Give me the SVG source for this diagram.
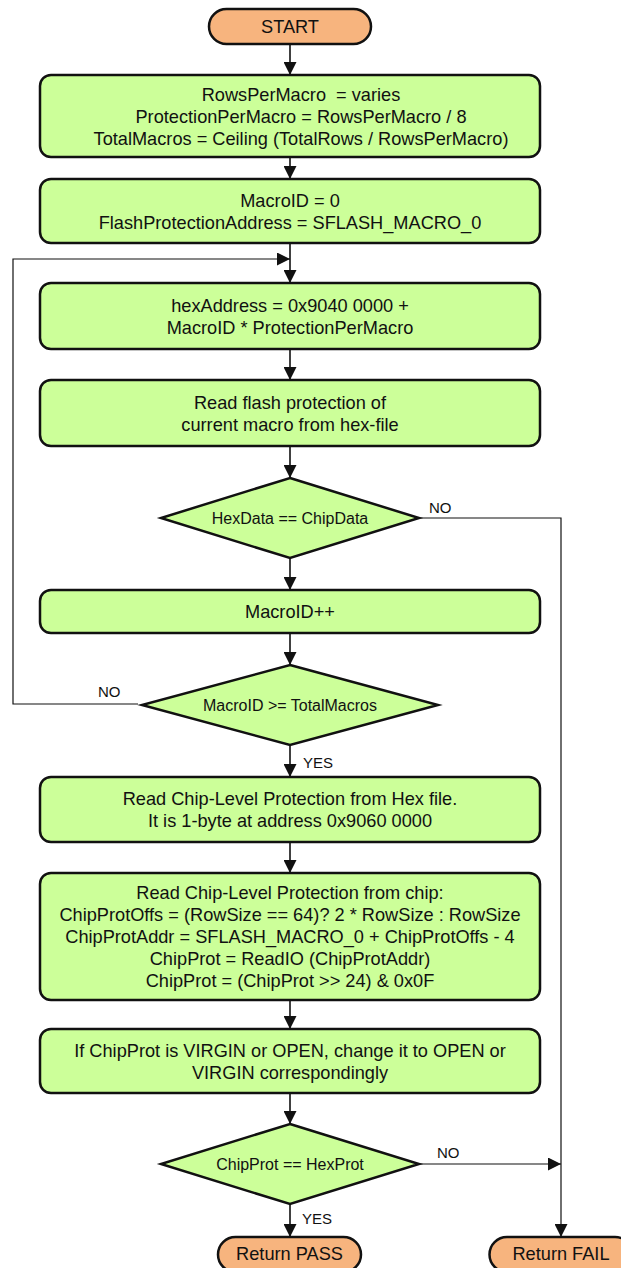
<svg xmlns="http://www.w3.org/2000/svg" width="621" height="1268" viewBox="0 0 621 1268">
<style>
.box{fill:#ccff99;stroke:#111;stroke-width:2.5}
.term{fill:#f7b47e;stroke:#111;stroke-width:2.5}
.t{font-family:"Liberation Sans",Arial,sans-serif;font-size:18.2px;fill:#111;text-anchor:middle}
.d{font-family:"Liberation Sans",Arial,sans-serif;font-size:16px;fill:#111;text-anchor:middle}
.l{font-family:"Liberation Sans",Arial,sans-serif;font-size:15px;fill:#111}
.c{fill:none;stroke:#111;stroke-width:1.6}
.s{fill:none;stroke:#111;stroke-width:1.2}
</style>
<defs>
<marker id="ah" markerUnits="userSpaceOnUse" markerWidth="14" markerHeight="13" refX="13" refY="6.5" orient="auto">
<path d="M0,0 L13,6.5 L0,13 z" fill="#111"/>
</marker>
</defs>
<rect width="621" height="1268" fill="#fff"/>
<g id="connectors">
<path class="c" d="M290,44 V75" marker-end="url(#ah)"/>
<path class="c" d="M290,157 V179" marker-end="url(#ah)"/>
<path class="c" d="M290,243 V283" marker-end="url(#ah)"/>
<path class="s" d="M138,704 H13 V259 H290" marker-end="url(#ah)"/>
<path class="c" d="M290,349 V380" marker-end="url(#ah)"/>
<path class="c" d="M290,446 V478" marker-end="url(#ah)"/>
<path class="c" d="M290,558 V590" marker-end="url(#ah)"/>
<path class="s" d="M419,518 H561 V1237" marker-end="url(#ah)"/>
<path class="c" d="M290,633 V665" marker-end="url(#ah)"/>
<path class="c" d="M290,745 V777" marker-end="url(#ah)"/>
<path class="c" d="M290,842 V873" marker-end="url(#ah)"/>
<path class="c" d="M290,1000 V1029" marker-end="url(#ah)"/>
<path class="c" d="M290,1093 V1124" marker-end="url(#ah)"/>
<path class="s" d="M419,1164 H561" marker-end="url(#ah)"/>
<path class="c" d="M290,1204 V1237" marker-end="url(#ah)"/>
<text class="l" x="429" y="513">NO</text>
<text class="l" x="98" y="697">NO</text>
<text class="l" x="303" y="768">YES</text>
<text class="l" x="437" y="1158">NO</text>
<text class="l" x="302" y="1224">YES</text>
</g>
<g id="start">
<rect class="term" x="209" y="9" width="162" height="35" rx="17.5"/>
<text class="t" x="290" y="32.5">START</text>
</g>
<g id="init">
<rect class="box" x="40" y="75" width="500" height="82" rx="11"/>
<text class="t" x="301" y="100.5">RowsPerMacro&#160; = varies</text>
<text class="t" x="301" y="122.5">ProtectionPerMacro = RowsPerMacro / 8</text>
<text class="t" x="301" y="144.5">TotalMacros = Ceiling (TotalRows / RowsPerMacro)</text>
</g>
<g id="macroinit">
<rect class="box" x="40" y="179" width="500" height="64" rx="11"/>
<text class="t" x="290" y="206.5">MacroID = 0</text>
<text class="t" x="290" y="228.5">FlashProtectionAddress = SFLASH_MACRO_0</text>
</g>
<g id="hexaddr">
<rect class="box" x="40" y="283" width="500" height="66" rx="11"/>
<text class="t" x="290" y="311.5">hexAddress = 0x9040 0000 +</text>
<text class="t" x="290" y="333.5">MacroID * ProtectionPerMacro</text>
</g>
<g id="readflash">
<rect class="box" x="40" y="380" width="500" height="66" rx="11"/>
<text class="t" x="290" y="408.5">Read flash protection of</text>
<text class="t" x="290" y="430.5">current macro from hex-file</text>
</g>
<g id="cmpdata">
<polygon class="box" points="290,478 419,518 290,558 161,518"/>
<text class="d" x="290" y="523.5">HexData == ChipData</text>
</g>
<g id="incr">
<rect class="box" x="40" y="590" width="500" height="43" rx="11"/>
<text class="t" x="290" y="617.5">MacroID++</text>
</g>
<g id="cmpmacro">
<polygon class="box" points="290,665 438,705 290,745 142,705"/>
<text class="d" x="290" y="710.5">MacroID &gt;= TotalMacros</text>
</g>
<g id="readhexchip">
<rect class="box" x="40" y="777" width="500" height="65" rx="11"/>
<text class="t" x="290" y="805">Read Chip-Level Protection from Hex file.</text>
<text class="t" x="290" y="827">It is 1-byte at address 0x9060 0000</text>
</g>
<g id="readchip">
<rect class="box" x="40" y="873" width="500" height="127" rx="11"/>
<text class="t" x="290" y="899">Read Chip-Level Protection from chip:</text>
<text class="t" x="290" y="921">ChipProtOffs = (RowSize == 64)? 2 * RowSize : RowSize</text>
<text class="t" x="290" y="943">ChipProtAddr = SFLASH_MACRO_0 + ChipProtOffs - 4</text>
<text class="t" x="290" y="965">ChipProt = ReadIO (ChipProtAddr)</text>
<text class="t" x="290" y="987">ChipProt = (ChipProt &gt;&gt; 24) &amp; 0x0F</text>
</g>
<g id="swap">
<rect class="box" x="40" y="1029" width="500" height="64" rx="11"/>
<text class="t" x="290" y="1056.5">If ChipProt is VIRGIN or OPEN, change it to OPEN or</text>
<text class="t" x="290" y="1078.5">VIRGIN correspondingly</text>
</g>
<g id="cmpprot">
<polygon class="box" points="290,1124 419,1164 290,1204 161,1164"/>
<text class="d" x="290" y="1169.5">ChipProt == HexProt</text>
</g>
<g id="pass">
<rect class="term" x="218" y="1237" width="143" height="35" rx="17.5"/>
<text class="t" x="289.5" y="1260">Return PASS</text>
</g>
<g id="fail">
<rect class="term" x="489.5" y="1237" width="143" height="35" rx="17.5"/>
<text class="t" x="561" y="1260">Return FAIL</text>
</g>
</svg>
